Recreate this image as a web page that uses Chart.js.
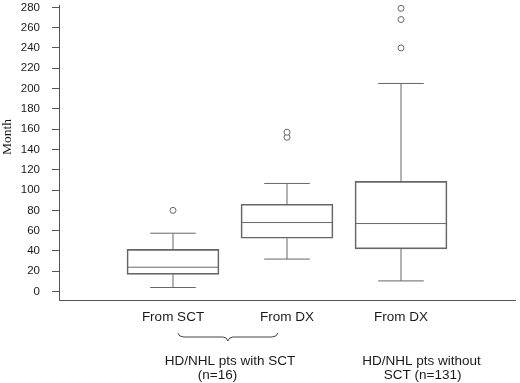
<!DOCTYPE html>
<html>
<head>
<meta charset="utf-8">
<script src="https://cdn.jsdelivr.net/npm/chart.js@4/dist/chart.umd.min.js"></script>
<style>
  html, body { margin: 0; padding: 0; background: #fff; }
  #wrap { width: 520px; height: 383px; position: relative; }
</style>
</head>
<body>
<div id="wrap"><canvas id="c" width="520" height="383"></canvas></div>
<script>
// ---- data ----
const categories = ["From SCT", "From DX", "From DX"];
const q1 = [17, 52.5, 42];
const medians = [24, 68, 67];
const q3 = [41.5, 86, 108.5];
const whiskerLow = [4, 32, 10.5];
const whiskerHigh = [57.5, 106.5, 205];
const outliers = [[80], [152, 157], [240, 268, 279]];
const yTickValues = [0, 20, 40, 60, 80, 100, 120, 140, 160, 180, 200, 220, 240, 260, 280];
const groupLines = [["HD/NHL pts with SCT", "(n=16)"], ["HD/NHL pts without", "SCT (n=131)"]];
const yTitle = "Month";

// ---- styling constants ----
const LINE = "#666";
const AXIS = "#555";
const TEXT = "#1a1a1a";
const SANS = "'Liberation Sans', Arial, sans-serif";
const boxHalf = 0.4;   // in x units
const capHalf = 0.2;

// build datasets from the arrays
const xs = categories.map((_, i) => i + 1);
const boxData = xs.map((x, i) => ({ x: x, y: [q1[i], q3[i]] }));
const segData = [];
function seg(x1, y1, x2, y2) {
  segData.push({ x: x1, y: y1 }, { x: x2, y: y2 }, { x: x2, y: null });
}
xs.forEach((x, i) => {
  seg(x, whiskerLow[i], x, q1[i]);
  seg(x, q3[i], x, whiskerHigh[i]);
  seg(x - capHalf, whiskerLow[i], x + capHalf, whiskerLow[i]);
  seg(x - capHalf, whiskerHigh[i], x + capHalf, whiskerHigh[i]);
  seg(x - boxHalf, medians[i], x + boxHalf, medians[i]);
});
const outlierData = [];
xs.forEach((x, i) => outliers[i].forEach(v => outlierData.push({ x: x, y: v })));

const annotations = {
  id: 'annotations',
  afterDraw(chart) {
    const ctx = chart.ctx;
    const xS = chart.scales.x;
    const bottom = chart.chartArea.bottom;
    ctx.save();
    // y title
    ctx.fillStyle = TEXT;
    ctx.font = "13.5px 'Liberation Serif', 'Times New Roman', serif";
    ctx.translate(11, 137);
    ctx.rotate(-Math.PI / 2);
    ctx.textAlign = 'center';
    ctx.textBaseline = 'alphabetic';
    ctx.fillText(yTitle, 0, 0);
    ctx.restore();

    ctx.save();
    // brace under the first two categories
    const bl = xS.getPixelForValue(1.043), br = xS.getPixelForValue(1.92);
    const bm = (bl + br) / 2;
    const yTop = bottom + 33, yMid = bottom + 37, yTip = bottom + 41;
    ctx.strokeStyle = "#444";
    ctx.lineWidth = 1;
    ctx.beginPath();
    ctx.moveTo(bl, yTop);
    ctx.quadraticCurveTo(bl + 1, yMid, bl + 6, yMid);
    ctx.lineTo(bm - 5, yMid);
    ctx.quadraticCurveTo(bm - 1, yMid, bm, yTip);
    ctx.quadraticCurveTo(bm + 1, yMid, bm + 5, yMid);
    ctx.lineTo(br - 6, yMid);
    ctx.quadraticCurveTo(br - 1, yMid, br, yTop);
    ctx.stroke();

    // group labels
    ctx.fillStyle = TEXT;
    ctx.font = "13.5px " + SANS;
    ctx.textAlign = 'center';
    ctx.textBaseline = 'alphabetic';
    const centers = [[1.5, 1.39], [3.18, 3.19]];
    groupLines.forEach((lines, g) => {
      lines.forEach((t, k) => {
        ctx.fillText(t, xS.getPixelForValue(centers[g][k]), bottom + 64.5 + k * 14.5);
      });
    });
    ctx.restore();
  }
};

new Chart(document.getElementById('c'), {
  data: {
    datasets: [
      {
        type: 'line',
        data: segData,
        borderColor: LINE,
        borderWidth: 1,
        pointRadius: 0,
        spanGaps: false,
        fill: false,
        order: 0
      },
      {
        type: 'scatter',
        data: outlierData,
        pointStyle: 'circle',
        pointRadius: 3,
        pointBackgroundColor: '#fff',
        pointBorderColor: LINE,
        pointBorderWidth: 1,
        order: 0
      },
      {
        type: 'bar',
        data: boxData,
        backgroundColor: 'rgba(0,0,0,0)',
        borderColor: LINE,
        borderWidth: 1,
        borderSkipped: false,
        barThickness: 92,
        order: 1
      }
    ]
  },
  options: {
    responsive: false,
    animation: false,
    layout: { padding: { top: 3, right: 1, left: 0, bottom: 0 } },
    plugins: { legend: { display: false }, tooltip: { enabled: false } },
    scales: {
      x: {
        type: 'linear',
        min: 0,
        max: 4,
        offset: false,
        afterBuildTicks(scale) { scale.ticks = xs.map(v => ({ value: v })); },
        afterFit(scale) { scale.height = 83; scale.paddingLeft = 0; scale.paddingRight = 0; },
        ticks: {
          autoSkip: false,
          maxRotation: 0,
          padding: 9,
          color: TEXT,
          font: { family: SANS, size: 13.5 },
          callback: (v, i) => categories[i]
        },
        grid: { display: true, drawOnChartArea: false, drawTicks: false, color: AXIS },
        border: { display: true, color: AXIS, width: 1 }
      },
      y: {
        type: 'linear',
        min: -8.3,
        max: 282.3,
        afterBuildTicks(scale) { scale.ticks = yTickValues.map(v => ({ value: v })); },
        afterFit(scale) { scale.width = 59; scale.paddingTop = 0; scale.paddingBottom = 0; },
        ticks: {
          padding: 12,
          color: TEXT,
          font: { family: SANS, size: 11.5 }
        },
        grid: { display: true, drawOnChartArea: false, drawTicks: true, tickLength: 7, color: AXIS },
        border: { display: true, color: AXIS, width: 1 }
      }
    }
  },
  plugins: [annotations]
});
</script>
</body>
</html>
